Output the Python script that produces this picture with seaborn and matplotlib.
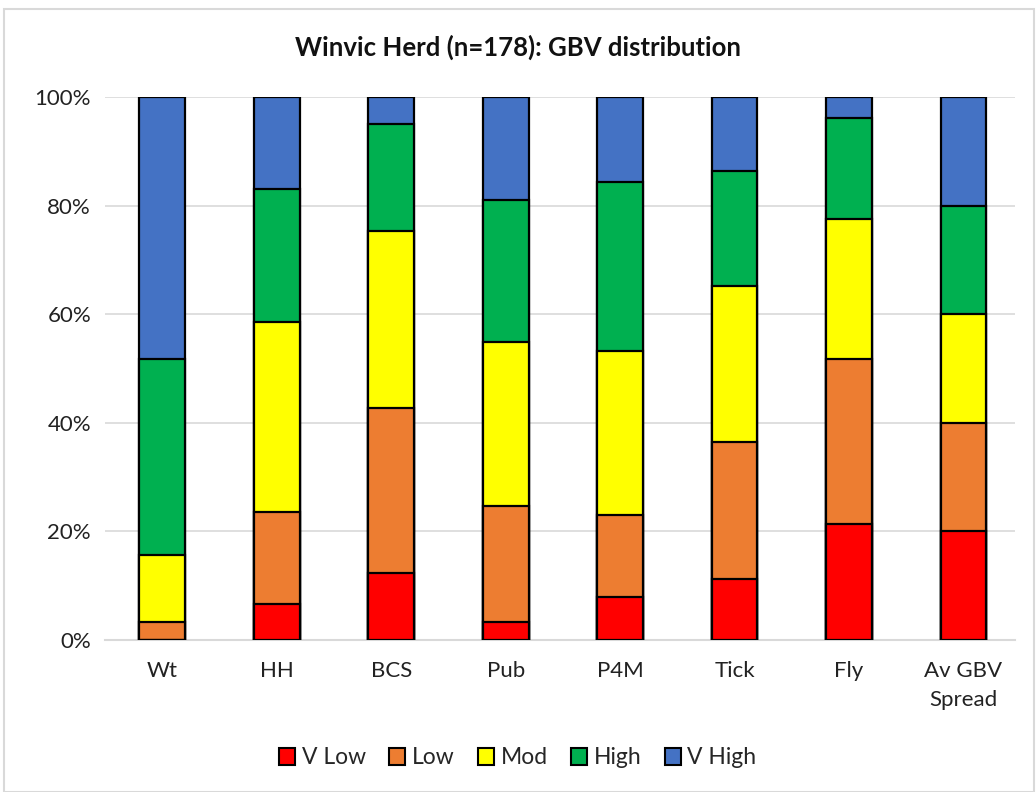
import numpy as np
import pandas as pd
import seaborn as sns
from matplotlib import pyplot as plt
from matplotlib.patches import Patch, Rectangle

categories = ['Wt', 'HH', 'BCS', 'Pub', 'P4M', 'Tick', 'Fly', 'Av GBV\nSpread']
levels = ['V Low', 'Low', 'Mod', 'High', 'V High']
colors = ['#FF0000', '#ED7D31', '#FFFF00', '#00B050', '#4472C4']

# percent of herd in each GBV band
v_low  = [0.0, 6.6, 12.3, 3.3, 7.9, 11.2, 21.4, 20.0]
low    = [3.3, 17.0, 30.4, 21.4, 15.1, 25.3, 30.3, 20.0]
mod    = [12.4, 35.0, 32.6, 30.2, 30.2, 28.7, 25.8, 20.0]
high   = [36.0, 24.5, 19.7, 26.1, 31.1, 21.2, 18.6, 20.0]
v_high = [48.3, 16.9, 5.0, 19.0, 15.7, 13.6, 3.9, 20.0]

sns.set_style('white')
plt.rcParams['font.family'] = ['Lato', 'DejaVu Sans']

df = pd.DataFrame({'cat': categories, 'V Low': v_low, 'Low': low, 'Mod': mod,
                   'High': high, 'V High': v_high})
cum = df[levels].cumsum(axis=1)
cum = cum.div(cum['V High'], axis=0) * 100

fig = plt.figure(figsize=(10.36, 7.92), dpi=100)
ax = fig.add_axes([105 / 1036, 1 - 640 / 792, 910 / 1036, 543 / 792])

# draw cumulative bars from top band down so lower bands sit on top
for lev, col in reversed(list(zip(levels, colors))):
    sns.barplot(x=df['cat'], y=cum[lev], color=col, saturation=1, edgecolor='black',
                linewidth=1.6, width=0.4, ax=ax, zorder=3)

ax.set_ylim(0, 100)
ax.set_xlim(-0.5, 7.45)
ax.set_yticks([0, 20, 40, 60, 80, 100])
ax.set_yticklabels([f'{v}%' for v in range(0, 101, 20)], fontsize=16, color='#222222')
ax.tick_params(axis='x', labelsize=16, colors='#222222', length=0, pad=15)
ax.tick_params(axis='y', length=0, pad=10)
for t in ax.get_xticklabels():
    t.set_linespacing(1.55)
ax.set_xlabel('')
ax.set_ylabel('')
ax.yaxis.grid(True, color='#D9D9D9', linewidth=1.2, zorder=0)
for s in ['top', 'right', 'left']:
    ax.spines[s].set_visible(False)
ax.spines['bottom'].set_color('#D9D9D9')
ax.spines['bottom'].set_linewidth(1.5)

fig.suptitle('Winvic Herd (n=178): GBV distribution', y=1 - 47 / 792, va='center',
             fontsize=18.5, fontweight='bold', color='#111111')

handles = [Patch(facecolor=c, edgecolor='black', linewidth=1.5, label=l)
           for l, c in zip(levels, colors)]
fig.legend(handles=handles, loc='center', bbox_to_anchor=(0.5, 1 - 758 / 792),
           ncol=5, frameon=False, fontsize=16.5, handlelength=0.7, handleheight=0.7,
           handletextpad=0.3, columnspacing=1.0)

fig.patches.append(Rectangle((4 / 1036, 0), 1030 / 1036, 1 - 9 / 792,
                             transform=fig.transFigure, fill=False,
                             edgecolor='#D9D9D9', linewidth=1.5))

fig.savefig('out.png', dpi=100, facecolor='white')
